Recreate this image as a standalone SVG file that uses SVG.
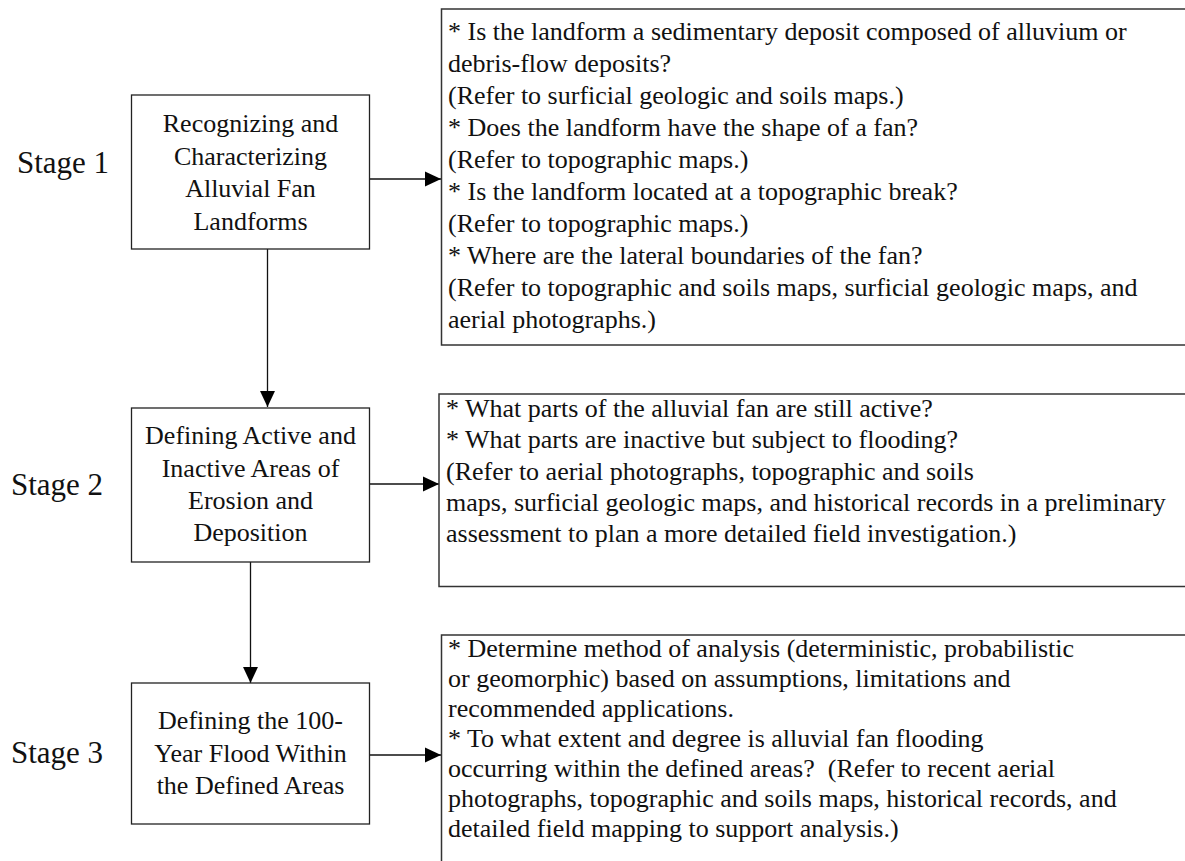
<svg xmlns="http://www.w3.org/2000/svg" width="1185" height="861" viewBox="0 0 1185 861">
<style>
.box{fill:#fff;stroke:#222;stroke-width:1.3}
.qbox{fill:#fff;stroke:#333;stroke-width:1.5}
.t{font-family:"Liberation Serif","Times New Roman",serif;font-size:26px;fill:#111;white-space:pre}
.c{text-anchor:middle}
.stage{font-family:"Liberation Serif","Times New Roman",serif;font-size:31px;fill:#111}
.conn{stroke:#111;stroke-width:1.3;fill:none;marker-end:url(#ah)}
</style>
<defs>
<marker id="ah" markerUnits="userSpaceOnUse" markerWidth="16" markerHeight="16" viewBox="0 0 15 14" refX="15" refY="7" orient="auto">
<path d="M0,0 L15,7 L0,14 Z" fill="#000"/>
</marker>
</defs>
<g id="stage-labels">
<text class="stage" x="17" y="173">Stage 1</text>
<text class="stage" x="11" y="495">Stage 2</text>
<text class="stage" x="11" y="763">Stage 3</text>
</g>
<g id="connectors">
<line class="conn" x1="369.5" y1="179" x2="441" y2="179"/>
<line class="conn" x1="369.5" y1="484" x2="439" y2="484"/>
<line class="conn" x1="369.5" y1="755" x2="441" y2="755"/>
<line class="conn" x1="267.5" y1="249" x2="267.5" y2="407"/>
<line class="conn" x1="250.5" y1="562" x2="250.5" y2="683"/>
</g>
<g id="node-stage1">
<rect class="box" x="131.5" y="95" width="238" height="154"/>
<text class="t c" x="250.5" y="132">Recognizing and</text>
<text class="t c" x="250.5" y="164.5">Characterizing</text>
<text class="t c" x="250.5" y="197">Alluvial Fan</text>
<text class="t c" x="250.5" y="229.5">Landforms</text>
</g>
<g id="node-stage2">
<rect class="box" x="131.5" y="408" width="238" height="154"/>
<text class="t c" x="250.5" y="444">Defining Active and</text>
<text class="t c" x="250.5" y="476.5">Inactive Areas of</text>
<text class="t c" x="250.5" y="508.5">Erosion and</text>
<text class="t c" x="250.5" y="540.5">Deposition</text>
</g>
<g id="node-stage3">
<rect class="box" x="131.5" y="683" width="238" height="141"/>
<text class="t c" x="250.5" y="728.5">Defining the 100-</text>
<text class="t c" x="250.5" y="761.5">Year Flood Within</text>
<text class="t c" x="250.5" y="793.5">the Defined Areas</text>
</g>
<g id="node-questions1">
<rect class="qbox" x="441.5" y="9" width="760" height="336"/>
<text class="t" x="448" y="40">* Is the landform a sedimentary deposit composed of alluvium or</text>
<text class="t" x="448" y="72">debris-flow deposits?</text>
<text class="t" x="448" y="104">(Refer to surficial geologic and soils maps.)</text>
<text class="t" x="448" y="136">* Does the landform have the shape of a fan?</text>
<text class="t" x="448" y="168">(Refer to topographic maps.)</text>
<text class="t" x="448" y="200">* Is the landform located at a topographic break?</text>
<text class="t" x="448" y="232">(Refer to topographic maps.)</text>
<text class="t" x="448" y="264">* Where are the lateral boundaries of the fan?</text>
<text class="t" x="448" y="296">(Refer to topographic and soils maps, surficial geologic maps, and</text>
<text class="t" x="448" y="328">aerial photographs.)</text>
</g>
<g id="node-questions2">
<rect class="qbox" x="439" y="394" width="760" height="192.5"/>
<text class="t" x="446" y="417">* What parts of the alluvial fan are still active?</text>
<text class="t" x="446" y="448.3">* What parts are inactive but subject to flooding?</text>
<text class="t" x="446" y="479.5">(Refer to aerial photographs, topographic and soils</text>
<text class="t" x="446" y="510.8">maps, surficial geologic maps, and historical records in a preliminary</text>
<text class="t" x="446" y="542">assessment to plan a more detailed field investigation.)</text>
</g>
<g id="node-questions3">
<rect class="qbox" x="441.5" y="635" width="760" height="260"/>
<text class="t" x="448" y="657">* Determine method of analysis (deterministic, probabilistic</text>
<text class="t" x="448" y="687">or geomorphic) based on assumptions, limitations and</text>
<text class="t" x="448" y="717">recommended applications.</text>
<text class="t" x="448" y="747">* To what extent and degree is alluvial fan flooding</text>
<text class="t" x="448" y="777">occurring within the defined areas?  (Refer to recent aerial</text>
<text class="t" x="448" y="807">photographs, topographic and soils maps, historical records, and</text>
<text class="t" x="448" y="837">detailed field mapping to support analysis.)</text>
</g>
</svg>
